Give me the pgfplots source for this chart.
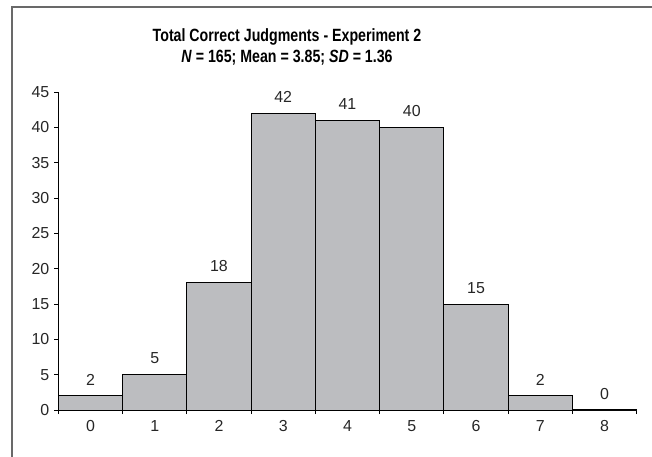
\documentclass[border=0pt]{standalone}
\usepackage{pgfplots}
\pgfplotsset{compat=1.18}
\usepackage{fontspec}
\setmainfont{Liberation Sans}
\newfontfamily\condfont[FakeStretch=0.80]{Liberation Sans}
\definecolor{barfill}{RGB}{188,189,192}
\definecolor{framegray}{RGB}{105,105,105}
\begin{document}
\begin{tikzpicture}
\useasboundingbox (0bp,0bp) rectangle (652bp,457bp);
\draw[framegray, line width=1.6bp] (12bp,0bp) -- (12bp,450bp) -- (652bp,450bp);
\node[font=\condfont\bfseries\fontsize{17.8}{20}\selectfont] at (287bp,420bp) {Total Correct Judgments - Experiment 2};
\node[font=\condfont\bfseries\fontsize{17.8}{20}\selectfont] at (287bp,399bp) {\textit{N} = 165; Mean = 3.85; \textit{SD} = 1.36};
\begin{axis}[
  at={(58.3bp,47bp)}, anchor=south west,
  width=578.4bp, height=318bp, scale only axis,
  xmin=-0.5, xmax=8.5, ymin=0, ymax=45,
  /pgf/number format/assume math mode=true,
  axis x line*=bottom, axis y line*=left,
  axis line style={line width=1.3bp, black, -},
  ytick={0,5,...,45},
  xtick={0,...,8},
  tick align=outside,
  major tick length=4bp,
  every tick/.style={black, line width=1bp},
  major x tick style={draw=none},
  extra x ticks={-0.5,0.5,...,8.5},
  extra x tick labels={},
  extra x tick style={major x tick style={draw=black, line width=1bp}},
  tick label style={font=\fontsize{16}{19}\selectfont, text=black!85},
  xticklabel style={yshift=-3bp},
  yticklabel style={xshift=-1.5bp},
  ybar, bar width=1, bar shift=0pt,
  nodes near coords,
  every node near coord/.append style={font=\fontsize{16}{19}\selectfont, text=black!85, yshift=7bp},
  clip=false,
]
\addplot[fill=barfill, draw=black, line width=0.8bp] coordinates {
(0,2) (1,5) (2,18) (3,42) (4,41) (5,40) (6,15) (7,2) (8,0)
};
\end{axis}
\end{tikzpicture}
\end{document}
